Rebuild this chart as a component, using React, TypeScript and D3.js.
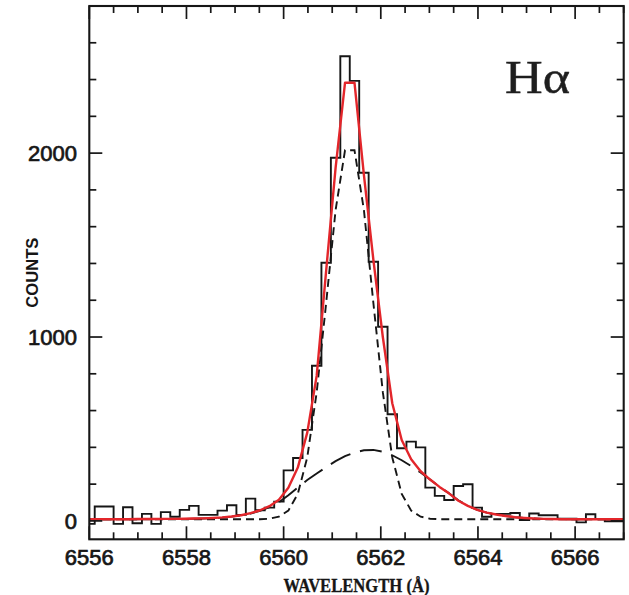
import React from "react";
import * as d3 from "d3";

const WIDTH = 629;
const HEIGHT = 595;
const PLOT = { left: 89.3, right: 623.7, top: 6, bottom: 539.3 };

// Spectral binning (Å): left edge of the first bin and the bin width
const BIN_START = 6555.917;
const BIN_WIDTH = 0.19444;

// Observed counts per wavelength bin
const COUNTS = [
  -16, 78, 78, -16, 74, -13, 38, -16, 48, 23, 60, 82, 33, 33, 56, 85, 33, 121, 58, 72,
  105, 275, 342, 495, 844, 1404, 1975, 2527, 2393, 1893, 1409, 1056, 580, 395, 431, 400, 181, 136, 114, 190,
  199, 72, 23, 38, 38, 43, 5, 40, 31, 31, 12, 12, -8, 36, 11, -2, -2, -2,
];

// Total fitted profile, sampled at the bin centres
const TOTAL_FIT = [
  9, 9, 9, 9, 9, 10, 10, 10, 11, 11, 12, 13, 14, 16, 19, 24, 31, 42, 58, 80,
  115, 180, 290, 480, 790, 1360, 1920, 2383, 2383, 1880, 1420, 1000, 640, 440, 335, 270, 225, 185, 150, 110,
  82, 60, 45, 35, 27, 20, 16, 13, 11, 10, 9, 9, 9, 9, 9, 9, 9, 9,
];

// Narrow component (short dashes)
const NARROW = [
  9, 9, 9, 9, 9, 9, 9, 9, 9, 9, 9, 9, 9, 9, 9, 9, 9, 9, 9, 12,
  23, 56, 147, 345, 700, 1185, 1690, 2016, 2016, 1690, 1185, 700, 345, 147, 56, 23, 12, 9, 9, 9,
  9, 9, 9, 9, 9, 9, 9, 9, 9, 9, 9, 9, 9, 9, 9, 9, 9, 9,
];

// Broad component (long dashes)
const BROAD = [
  9, 9, 9, 9, 9, 9, 10, 10, 10, 10, 11, 12, 13, 15, 18, 23, 30, 40, 55, 75,
  102, 140, 182, 222, 258, 292, 325, 352, 372, 384, 386, 376, 357, 330, 298, 263, 225, 186, 150, 112,
  82, 60, 45, 35, 27, 20, 16, 13, 11, 10, 9, 9, 9, 9, 9, 9, 9, 9,
];

const X_DOMAIN = [6556, 6567];
const Y_DOMAIN = [-100, 2800];
const X_MAJOR = [6556, 6558, 6560, 6562, 6564, 6566];
const Y_MAJOR = [0, 1000, 2000];
const X_MINOR_STEP = 0.5;
const Y_MINOR_STEP = 200;

const INK = "#161616";
const FIT_RED = "#e3262b";

export default function App() {
  const x = d3.scaleLinear().domain(X_DOMAIN).range([PLOT.left, PLOT.right]);
  const y = d3.scaleLinear().domain(Y_DOMAIN).range([PLOT.bottom, PLOT.top]);

  // histogram outline: flat top across each bin, vertical risers between bins
  const stepPts: [number, number][] = [];
  COUNTS.forEach((c, i) => {
    const x0 = BIN_START + i * BIN_WIDTH;
    stepPts.push([x0, c], [x0 + BIN_WIDTH, c]);
  });
  const line = d3
    .line<[number, number]>()
    .x((d) => x(d[0]))
    .y((d) => y(d[1]));
  const histPath = line(stepPts) ?? "";

  const centred = (vals: number[]) =>
    line(vals.map((v, i) => [BIN_START + (i + 0.5) * BIN_WIDTH, v] as [number, number])) ?? "";

  const xMinor = d3.range(X_DOMAIN[0], X_DOMAIN[1] + 1e-6, X_MINOR_STEP);
  const yMinor = d3.range(0, Y_DOMAIN[1] + 1e-6, Y_MINOR_STEP);
  const MAJ = 13;
  const MIN = 7;

  const tickSans = "'Liberation Sans', Arial, Helvetica, sans-serif";
  const serif = "'Liberation Serif', 'Times New Roman', Times, serif";

  return (
    <svg
      width={WIDTH}
      height={HEIGHT}
      viewBox={`0 0 ${WIDTH} ${HEIGHT}`}
      style={{ position: "absolute", left: 0, top: 0, background: "#fff" }}
    >
      <defs>
        <clipPath id="plot-area">
          <rect x={PLOT.left} y={PLOT.top} width={PLOT.right - PLOT.left} height={PLOT.bottom - PLOT.top} />
        </clipPath>
      </defs>

      <g clipPath="url(#plot-area)" fill="none">
        <path d={histPath} stroke={INK} strokeWidth={1.9} strokeLinejoin="miter" />
        <path d={centred(NARROW)} stroke={INK} strokeWidth={1.9} strokeDasharray="8,5" />
        <path d={centred(BROAD)} stroke={INK} strokeWidth={1.9} strokeDasharray="22,10" />
        <path d={centred(TOTAL_FIT)} stroke={FIT_RED} strokeWidth={2.4} strokeLinejoin="round" />
      </g>

      {/* ticks on all four sides, pointing inwards */}
      <g stroke={INK} strokeWidth={1.7}>
        {xMinor.map((v) => {
          const major = X_MAJOR.some((m) => Math.abs(m - v) < 1e-6);
          const len = major ? MAJ : MIN;
          return (
            <g key={`xt${v}`}>
              <line x1={x(v)} x2={x(v)} y1={PLOT.bottom} y2={PLOT.bottom - len} />
              <line x1={x(v)} x2={x(v)} y1={PLOT.top} y2={PLOT.top + len} />
            </g>
          );
        })}
        {yMinor.map((v) => {
          const major = Y_MAJOR.includes(v);
          const len = major ? MAJ : MIN;
          return (
            <g key={`yt${v}`}>
              <line x1={PLOT.left} x2={PLOT.left + len} y1={y(v)} y2={y(v)} />
              <line x1={PLOT.right} x2={PLOT.right - len} y1={y(v)} y2={y(v)} />
            </g>
          );
        })}
      </g>

      <rect
        x={PLOT.left}
        y={PLOT.top}
        width={PLOT.right - PLOT.left}
        height={PLOT.bottom - PLOT.top}
        fill="none"
        stroke={INK}
        strokeWidth={2.1}
      />

      <g fontFamily={tickSans} fontSize={22} fill={INK} stroke={INK} strokeWidth={0.7}>
        {X_MAJOR.map((v) => (
          <text key={`xl${v}`} x={x(v)} y={565} textAnchor="middle">
            {v}
          </text>
        ))}
        {Y_MAJOR.map((v) => (
          <text key={`yl${v}`} x={77} y={y(v) + 8} textAnchor="end">
            {v}
          </text>
        ))}
      </g>

      <text
        x={(PLOT.left + PLOT.right) / 2}
        y={591.5}
        textAnchor="middle"
        fontFamily={serif}
        fontWeight="bold"
        fontSize={18}
        textLength={146}
        lengthAdjust="spacingAndGlyphs"
        fill={INK}
        stroke={INK}
        strokeWidth={0.3}
      >
        WAVELENGTH (Å)
      </text>

      <text
        transform={`translate(38.3, ${(PLOT.top + PLOT.bottom) / 2}) rotate(-90)`}
        textAnchor="middle"
        fontFamily={tickSans}
        fontWeight="bold"
        fontSize={17}
        textLength={70}
        lengthAdjust="spacingAndGlyphs"
        fill={INK}
      >
        COUNTS
      </text>

      <text
        x={505}
        y={92.5}
        fontFamily={serif}
        fontSize={47}
        textLength={65}
        lengthAdjust="spacingAndGlyphs"
        fill="#1e1e1e"
        stroke="#1e1e1e"
        strokeWidth={0.5}
      >
        Hα
      </text>
    </svg>
  );
}
